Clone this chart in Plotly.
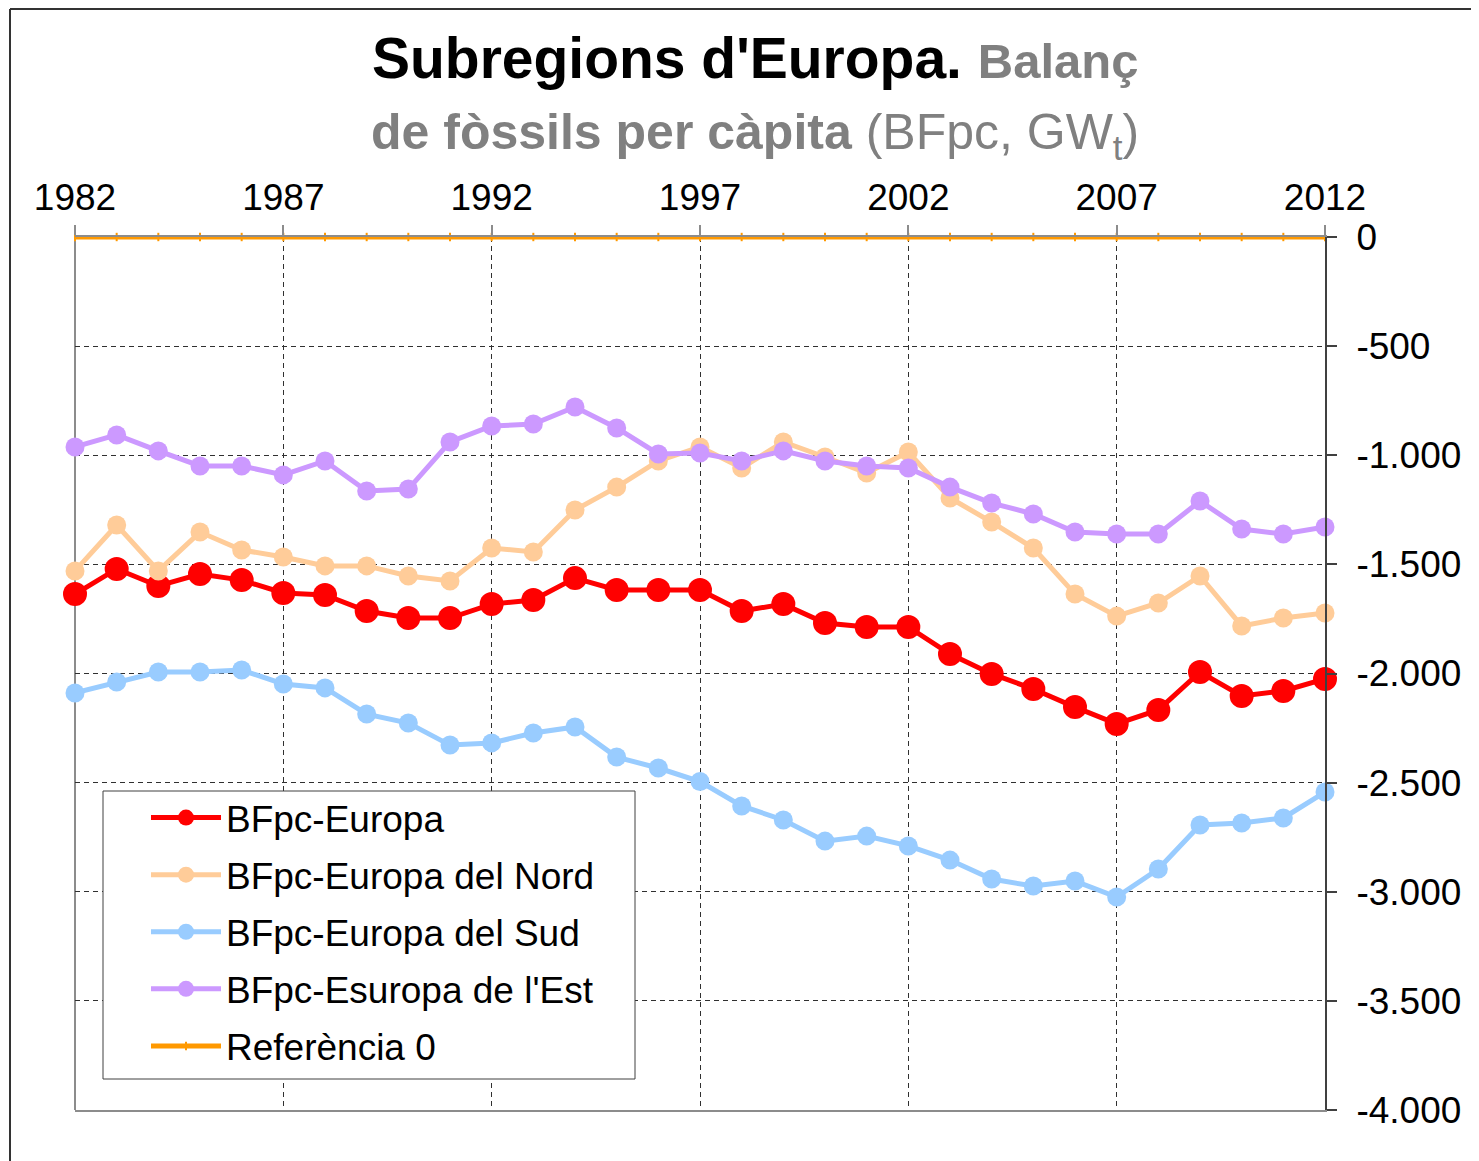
import plotly.graph_objects as go

years = list(range(1982, 2013))

europa = [-1636, -1521, -1599, -1544, -1572, -1631, -1640, -1714, -1746, -1746,
          -1682, -1663, -1563, -1617, -1617, -1617, -1714, -1682, -1769, -1787,
          -1787, -1911, -2002, -2071, -2154, -2231, -2167, -1993, -2103, -2080, -2025]

nord = [-1530, -1320, -1530, -1352, -1434, -1466, -1507, -1507, -1553, -1576,
        -1425, -1443, -1251, -1146, -1026, -962, -1058, -939, -1008, -1081,
        -985, -1196, -1306, -1425, -1636, -1737, -1677, -1553, -1782, -1746, -1723]

sud = [-2089, -2039, -1993, -1993, -1984, -2048, -2066, -2186, -2227, -2328,
       -2318, -2273, -2245, -2383, -2433, -2495, -2607, -2671, -2768, -2745,
       -2790, -2855, -2942, -2974, -2951, -3024, -2896, -2694, -2685, -2662, -2543]

est = [-962, -907, -980, -1049, -1049, -1090, -1026, -1164, -1155, -939,
       -866, -857, -779, -875, -994, -990, -1026, -980, -1026, -1049,
       -1058, -1146, -1219, -1269, -1352, -1361, -1361, -1210, -1338, -1361, -1329]

ref0 = [0, 0, 0, 0, 0, 0, 0, 0, 0, 0, 0, 0, 0, 0, 0, 0, 0, 0, 0, 0,
        0, 0, 0, 0, 0, 0, 0, 0, 0, 0, 0]

x_tickvals = [1982, 1987, 1992, 1997, 2002, 2007, 2012]
x_ticktext = ["1982", "1987", "1992", "1997", "2002", "2007", "2012"]
y_tickvals = [0, -500, -1000, -1500, -2000, -2500, -3000, -3500, -4000]
y_ticktext = ["0", "-500", "-1.000", "-1.500", "-2.000", "-2.500", "-3.000", "-3.500", "-4.000"]

series_names = ["BFpc-Europa", "BFpc-Europa del Nord", "BFpc-Europa del Sud",
                "BFpc-Esuropa de l'Est", "Referència 0"]

FONT = "Liberation Sans, Arial, sans-serif"

fig = go.Figure()

styles = [
    (europa, "#FF0000", 24),
    (nord, "#FFCC99", 19),
    (sud, "#99CCFF", 19),
    (est, "#CC99FF", 19),
]
for i, (vals, col, msize) in enumerate(styles):
    fig.add_trace(go.Scatter(
        x=years, y=vals, name=series_names[i], mode="lines+markers",
        line=dict(color=col, width=5),
        marker=dict(color=col, size=msize, symbol="circle"),
        cliponaxis=False, legendgroup=f"g{i}",
    ))

fig.add_trace(go.Scatter(
    x=years, y=ref0, name=series_names[4], mode="lines+markers",
    line=dict(color="#FF9900", width=5),
    marker=dict(symbol="line-ns-open", size=6, line=dict(color="#FF9900", width=2)),
    cliponaxis=False, legendgroup="g4",
))

# figure frame and legend box
frame_top = (1110 - 9) / 873
fig.add_shape(type="line", xref="paper", yref="paper", x0=-0.052, x1=1.2, y0=frame_top, y1=frame_top,
              line=dict(color="#333333", width=2), layer="above")
fig.add_shape(type="line", xref="paper", yref="paper", x0=-0.052, x1=-0.052, y0=-0.1, y1=frame_top,
              line=dict(color="#333333", width=2), layer="above")
fig.add_shape(type="line", xref="paper", yref="paper", x0=0, x1=0, y0=0, y1=1,
              line=dict(color="#8c8c8c", width=2), layer="below")
fig.add_shape(type="rect", xref="paper", yref="paper",
              x0=(103 - 75) / 1250, x1=(635 - 75) / 1250,
              y0=(1110 - 1079) / 873, y1=(1110 - 791) / 873,
              line=dict(color="#404040", width=1), fillcolor="white", layer="above")

fig.add_annotation(
    xref="paper", yref="paper", x=0.544, y=(1110 - 58) / 873, xanchor="center", yanchor="middle",
    showarrow=False,
    text="<b>Subregions d'Europa.</b> <span style='font-size:49px;color:#808080'><b>Balanç</b></span>",
    font=dict(family=FONT, size=57, color="black"),
)
fig.add_annotation(
    xref="paper", yref="paper", x=0.544, y=(1110 - 136) / 873, xanchor="center", yanchor="middle",
    showarrow=False,
    text="<b>de fòssils per càpita</b> (BFpc, GW<sub>t</sub>)",
    font=dict(family=FONT, size=50, color="#808080"),
)

fig.update_layout(
    width=1471, height=1153,
    margin=dict(l=67, r=154, t=229, b=51),
    paper_bgcolor="white", plot_bgcolor="white",
    font=dict(family=FONT, size=37, color="black"),
    showlegend=True,
    legend=dict(
        x=(146 - 75) / 1250, y=(1110 - 787) / 873, xanchor="left", yanchor="top",
        bgcolor="rgba(0,0,0,0)", borderwidth=0,
        font=dict(family=FONT, size=37, color="black"),
        traceorder="grouped", tracegroupgap=6, itemwidth=70,
    ),
    xaxis=dict(
        range=[1982, 2012], side="top",
        tickmode="array", tickvals=x_tickvals, ticktext=x_ticktext,
        ticks="outside", ticklen=10, tickwidth=2, tickcolor="#8c8c8c",
        showline=True, linecolor="#8c8c8c", linewidth=2, mirror=True,
        showgrid=True, gridcolor="#303030", gridwidth=1, griddash="5px,4px",
        zeroline=False, tickfont=dict(size=37),
    ),
    yaxis=dict(
        range=[-4000, 0], side="right",
        tickmode="array", tickvals=y_tickvals, ticktext=y_ticktext,
        ticks="outside", ticklen=10, tickwidth=2, tickcolor="#404040",
        showline=True, linecolor="#404040", linewidth=2, mirror=False,
        showgrid=True, gridcolor="#303030", gridwidth=1, griddash="5px,4px",
        zeroline=False, tickfont=dict(size=37), ticklabelstandoff=12,
    ),
)

fig.write_html("out.html")
